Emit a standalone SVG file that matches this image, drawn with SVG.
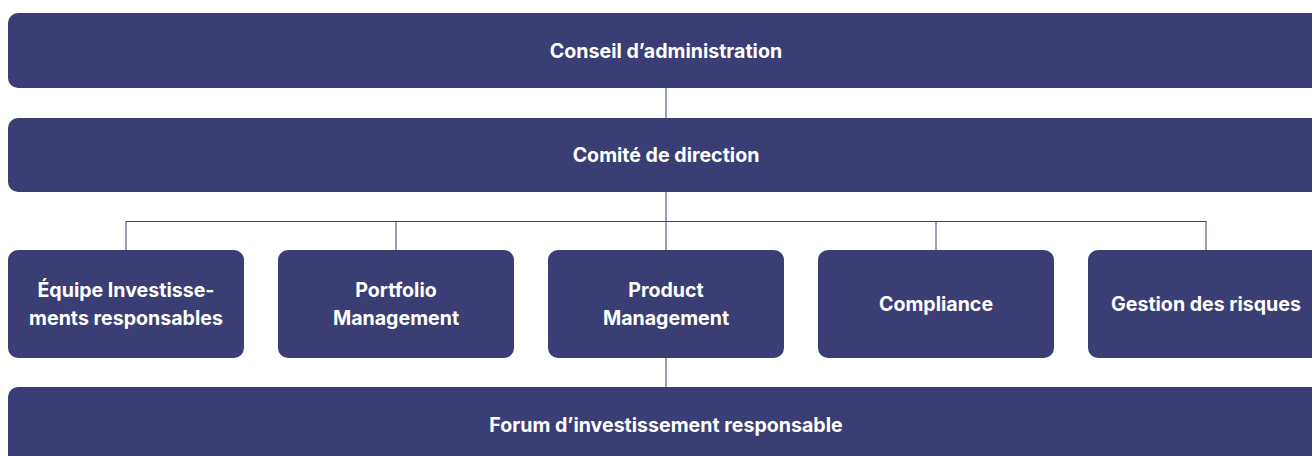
<svg xmlns="http://www.w3.org/2000/svg" width="1312" height="456" viewBox="0 0 1312 456">
<style>
.box{fill:#3b3e74}
.t{fill:#ffffff;font-family:Inter,"Liberation Sans",sans-serif;font-weight:700;font-size:19.6px;text-anchor:middle}
.c{stroke:#3b3e74;stroke-width:1;fill:none}
</style>
<rect width="1312" height="456" fill="#ffffff"/>
<g id="connectors">
<line class="c" x1="666" y1="88" x2="666" y2="118"/>
<line class="c" x1="666" y1="192" x2="666" y2="250"/>
<line class="c" x1="126" y1="221.5" x2="1206" y2="221.5"/>
<line class="c" x1="126" y1="221" x2="126" y2="250"/>
<line class="c" x1="396" y1="221" x2="396" y2="250"/>
<line class="c" x1="936" y1="221" x2="936" y2="250"/>
<line class="c" x1="1206" y1="221" x2="1206" y2="250"/>
<line class="c" x1="666" y1="358" x2="666" y2="387"/>
</g>
<g id="conseil">
<rect class="box" x="8" y="13" width="1320" height="75" rx="10"/>
<text class="t" x="666" y="58">Conseil d’administration</text>
</g>
<g id="comite">
<rect class="box" x="8" y="118" width="1320" height="74" rx="10"/>
<text class="t" x="666" y="162">Comité de direction</text>
</g>
<g id="equipe">
<rect class="box" x="8" y="250" width="236" height="108" rx="10"/>
<text class="t" x="126" y="297">Équipe Investisse-</text>
<text class="t" x="126" y="325">ments responsables</text>
</g>
<g id="portfolio">
<rect class="box" x="278" y="250" width="236" height="108" rx="10"/>
<text class="t" x="396" y="297">Portfolio</text>
<text class="t" x="396" y="325">Management</text>
</g>
<g id="product">
<rect class="box" x="548" y="250" width="236" height="108" rx="10"/>
<text class="t" x="666" y="297">Product</text>
<text class="t" x="666" y="325">Management</text>
</g>
<g id="compliance">
<rect class="box" x="818" y="250" width="236" height="108" rx="10"/>
<text class="t" x="936" y="311">Compliance</text>
</g>
<g id="risques">
<rect class="box" x="1088" y="250" width="240" height="108" rx="10"/>
<text class="t" x="1206" y="311">Gestion des risques</text>
</g>
<g id="forum">
<rect class="box" x="8" y="387" width="1320" height="90" rx="10"/>
<text class="t" x="666" y="432">Forum d’investissement responsable</text>
</g>
</svg>
